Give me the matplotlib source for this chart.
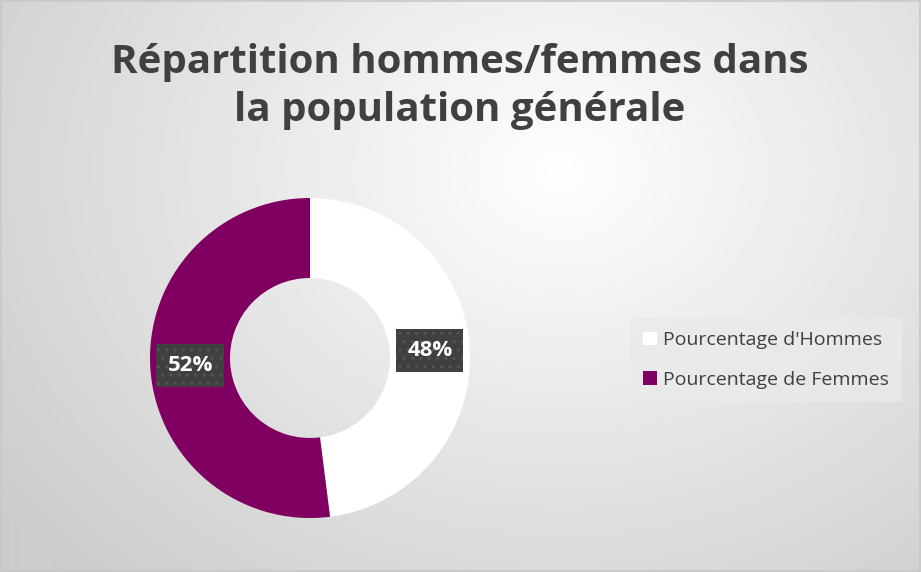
import numpy as np
import matplotlib.pyplot as plt
from matplotlib.patches import Rectangle

labels = ["Pourcentage d'Hommes", "Pourcentage de Femmes"]
values = [48, 52]
colors = ["#FFFFFF", "#7F0061"]
title = "Répartition hommes/femmes dans\nla population générale"

plt.rcParams['font.family'] = ['Open Sans', 'DejaVu Sans']

fig = plt.figure(figsize=(9.21, 5.72), dpi=100)

# radial gradient background
bg = fig.add_axes([0, 0, 1, 1])
h, w = 572, 921
yy, xx = np.mgrid[0:h, 0:w]
d = np.sqrt(((xx - 560) / 700.0) ** 2 + ((yy - 170) / 560.0) ** 2)
d = np.clip(d, 0, 1)
shade = 1.0 - 0.2 * d
img = np.dstack([shade, shade, shade])
bg.imshow(img, aspect='auto', extent=[0, 1, 0, 1], origin='upper')
bg.set_xlim(0, 1)
bg.set_ylim(0, 1)
bg.axis('off')
bg.add_patch(Rectangle((0.001, 0.001), 0.998, 0.997, fill=False,
                       edgecolor='#c8c8c8', linewidth=1.2))

fig.text(0.499, 0.849, title, ha='center', va='center', fontsize=29,
         fontweight='bold', color='#404040', linespacing=1.32)

ax = fig.add_axes([150 / 921, 54 / 572, 320 / 921, 320 / 572])
wedges, texts, autotexts = ax.pie(
    values, colors=colors, startangle=90, counterclock=False, radius=1,
    wedgeprops=dict(width=0.5, edgecolor='none'),
    autopct='%d%%', pctdistance=0.75,
    textprops=dict(color='white', fontsize=16, fontweight='bold'))
for t in autotexts:
    t.set_bbox(dict(boxstyle='square,pad=0.5', facecolor='#404040',
                    edgecolor='#555555', hatch='..', linewidth=0))
ax.set_xlim(-1, 1)
ax.set_ylim(-1, 1)

leg = fig.legend(wedges, labels, loc='center left',
                 bbox_to_anchor=(620 / 921, 1 - 360 / 572),
                 frameon=True, fontsize=14, handlelength=0.7, handleheight=0.7,
                 handletextpad=0.3, labelspacing=1.1, borderpad=0.7,
                 fancybox=False, labelcolor='#404040')
frame = leg.get_frame()
frame.set_facecolor('#eaeaea')
frame.set_edgecolor('none')
frame.set_alpha(0.8)

fig.savefig('out.png', dpi=100)
